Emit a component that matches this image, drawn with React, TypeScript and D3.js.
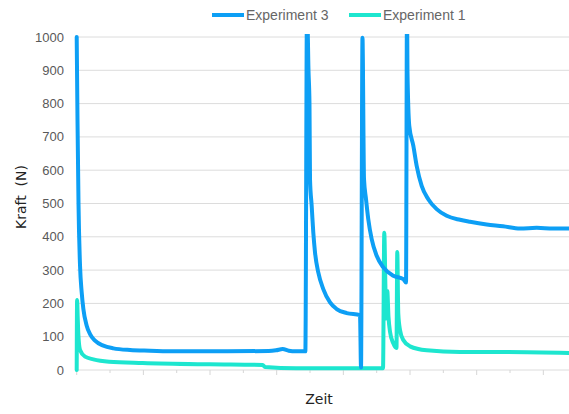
import React from "react";
import * as d3 from "d3";

// time axis has no labels, units are arbitrary
const time3 = [0, 1.2, 2.7, 5, 7.5, 10, 15, 20, 27.5, 40, 55, 80, 110, 149, 198, 288, 299, 309, 318, 329, 343, 345.5, 347.7, 349.2, 350, 352.5, 354.9, 357.5, 362.4, 369.9, 380, 390, 405, 425, 426.5, 428.7, 431, 434, 437.4, 442.5, 450, 460, 475, 490, 494, 495.5, 496.2, 498.9, 505, 510, 517.5, 527.4, 540, 555, 575, 590, 615, 639.5, 665, 690, 714.5, 738.5];
const force3 = [1000, 750, 500, 313, 233, 183, 133, 108, 88, 73, 65, 60, 58, 56, 56, 57, 59, 63, 58, 56, 56, 1100, 900, 800, 573, 493, 413, 353, 293, 243, 203, 183, 171, 165, 8, 998, 573, 513, 453, 393, 343, 308, 283, 273, 263, 1100, 898, 733, 673, 613, 553, 513, 483, 463, 451, 445, 437, 432, 425, 427, 425, 425];

const time1 = [0, 0.6, 1.5, 2.4, 5, 12.5, 25, 48.5, 99, 199, 279, 282.5, 329, 459.5, 461.4, 463.2, 464.4, 465.9, 467.7, 470, 474.9, 479.7, 480.9, 482.4, 485, 489.9, 500, 525, 575, 635, 738.5];
const force1 = [0, 210, 160, 110, 60, 40, 32, 25, 21, 17, 15, 9, 5, 5, 412, 240, 155, 237, 160, 115, 80, 66, 354, 170, 120, 90, 71, 59, 54, 54, 51];

const seriesNames = ["Experiment 3", "Experiment 1"];
const seriesColors = ["#0d9ff5", "#1de6cf"];
const yTicks = [0, 100, 200, 300, 400, 500, 600, 700, 800, 900, 1000];

const W = 569, H = 414;
const margin = { top: 37, right: 0, bottom: 44, left: 76.7 };

export default function App() {
  const x = d3.scaleLinear().domain([0, 738.5]).range([margin.left, W - margin.right]);
  const y = d3.scaleLinear().domain([0, 1000]).range([H - margin.bottom, margin.top]);

  const line = d3.line<[number, number]>()
    .x(d => x(d[0]))
    .y(d => y(d[1]))
    .curve(d3.curveMonotoneX);

  const s3 = time3.map((t, i) => [t, force3[i]] as [number, number]);
  const s1 = time1.map((t, i) => [t, force1[i]] as [number, number]);

  const xTicks = d3.range(0, 701, 50);

  return (
    <svg width={W} height={H} style={{ position: "absolute", left: 0, top: 0 }}>
      <defs>
        <clipPath id="plot">
          <rect x={margin.left - 4} y={margin.top - 3} width={W - margin.left + 4} height={H - margin.top - margin.bottom + 6} />
        </clipPath>
      </defs>

      {/* grid */}
      {yTicks.map(v => (
        <line key={v} x1={margin.left} x2={W} y1={y(v)} y2={y(v)} stroke="#dcdcdc" strokeWidth={1} />
      ))}
      {xTicks.map(t => (
        <line key={t} x1={x(t)} x2={x(t)} y1={y(0)} y2={y(0) + (t % 100 === 0 ? 5 : 3)} stroke="#d6d6d6" strokeWidth={1} />
      ))}

      {/* y labels */}
      {yTicks.map(v => (
        <text key={v} x={64} y={y(v)} dy="0.35em" textAnchor="end" fontFamily="'Liberation Sans', Arial, sans-serif" fontSize={13} fill="#595959">{v}</text>
      ))}

      <g clipPath="url(#plot)">
        <path d={line(s1) || ""} fill="none" stroke={seriesColors[1]} strokeWidth={4} strokeLinejoin="round" strokeLinecap="round" />
        <path d={line(s3) || ""} fill="none" stroke={seriesColors[0]} strokeWidth={4} strokeLinejoin="round" strokeLinecap="round" />
      </g>

      {/* axis titles */}
      <text transform={`translate(21,${197}) rotate(-90)`} textAnchor="middle" dy="0.35em" fontFamily="'DejaVu Sans', sans-serif" fontSize={14} fill="#222" style={{ whiteSpace: "pre" }}>{"Kraft  (N)"}</text>
      <text x={319} y={404} textAnchor="middle" fontFamily="'DejaVu Sans', sans-serif" fontSize={14} fill="#222">Zeit</text>

      {/* legend */}
      {seriesNames.map((n, i) => {
        const lx = i === 0 ? 212 : 349;
        return (
          <g key={n}>
            <line x1={lx} x2={lx + 32} y1={15} y2={15} stroke={seriesColors[i]} strokeWidth={4} />
            <text x={lx + 34} y={15} dy="0.35em" fontFamily="'Liberation Sans', Arial, sans-serif" fontSize={14} fill="#666">{n}</text>
          </g>
        );
      })}
    </svg>
  );
}
